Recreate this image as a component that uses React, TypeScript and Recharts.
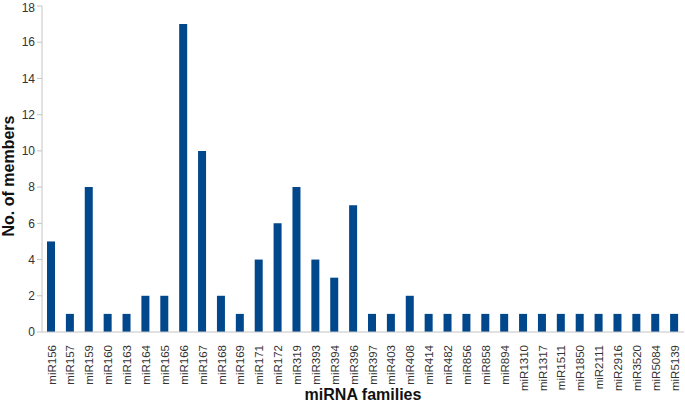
import { Bar, BarChart, Label, XAxis, YAxis } from 'recharts';

const families = [
  'miR156', 'miR157', 'miR159', 'miR160', 'miR163', 'miR164', 'miR165', 'miR166',
  'miR167', 'miR168', 'miR169', 'miR171', 'miR172', 'miR319', 'miR393', 'miR394',
  'miR396', 'miR397', 'miR403', 'miR408', 'miR414', 'miR482', 'miR856', 'miR858',
  'miR894', 'miR1310', 'miR1317', 'miR1511', 'miR1850', 'miR2111', 'miR2916',
  'miR3520', 'miR5084', 'miR5139',
];

const members = [
  5, 1, 8, 1, 1, 2, 2, 17,
  10, 2, 1, 4, 6, 8, 4, 3,
  7, 1, 1, 2, 1, 1, 1, 1,
  1, 1, 1, 1, 1, 1, 1,
  1, 1, 1,
];

const yTicks = [0, 2, 4, 6, 8, 10, 12, 14, 16, 18];

const data = families.map((name, i) => ({ name, members: members[i] }));

const FONT = '"Liberation Sans", Arial, Helvetica, sans-serif';
const AXIS_GRAY = '#c4c4c4';
const BAR_BLUE = '#00478b';

function FamilyTick(props: { x?: number; y?: number; payload?: { value: string } }) {
  const { x = 0, y = 0, payload } = props;
  return (
    <text
      x={0}
      y={0}
      transform={`translate(${x},${y + 5}) rotate(-90)`}
      textAnchor="end"
      dy="0.36em"
      fontSize={11.5}
      fontFamily={FONT}
      fill="#333"
    >
      {payload?.value}
    </text>
  );
}

function YTitle(props: { viewBox?: { x: number; y: number; width: number; height: number } }) {
  const vb = props.viewBox ?? { x: 0, y: 0, width: 0, height: 0 };
  const cx = vb.x + 14;
  const cy = vb.y + vb.height / 2 + 7;
  return (
    <text
      x={cx}
      y={cy}
      transform={`rotate(-90, ${cx}, ${cy})`}
      textAnchor="middle"
      fontFamily={FONT}
      fontSize={16}
      fontWeight={700}
      fill="#111"
    >
      No. of members
    </text>
  );
}

export default function App() {
  return (
    <div style={{ position: 'absolute', left: 0, top: 0, background: '#fff' }}>
      <BarChart
        width={685}
        height={403}
        data={data}
        margin={{ top: 6, right: 1, left: 0, bottom: 0 }}
        barCategoryGap="55%"
      >
        <XAxis
          dataKey="name"
          interval={0}
          height={71}
          tick={<FamilyTick />}
          tickLine={false}
          axisLine={{ stroke: AXIS_GRAY }}
        >
          <Label
            value="miRNA families"
            position="insideBottom"
            offset={3}
            style={{ fontFamily: FONT, fontSize: 16, fontWeight: 700, fill: '#111' }}
          />
        </XAxis>
        <XAxis xAxisId="top" orientation="top" height={0} tick={false} tickLine={false} axisLine={{ stroke: AXIS_GRAY }} />
        <YAxis
          domain={[0, 18]}
          ticks={yTicks}
          width={42}
          tick={{ fontFamily: FONT, fontSize: 12, fill: '#333' }}
          tickLine={{ stroke: AXIS_GRAY }}
          tickSize={5}
          axisLine={{ stroke: AXIS_GRAY }}
        >
          <Label content={<YTitle />} />
        </YAxis>
        <YAxis yAxisId="right" orientation="right" width={0} tick={false} tickLine={false} axisLine={{ stroke: AXIS_GRAY }} />
        <Bar dataKey="members" fill={BAR_BLUE} barSize={8} isAnimationActive={false} />
      </BarChart>
    </div>
  );
}
